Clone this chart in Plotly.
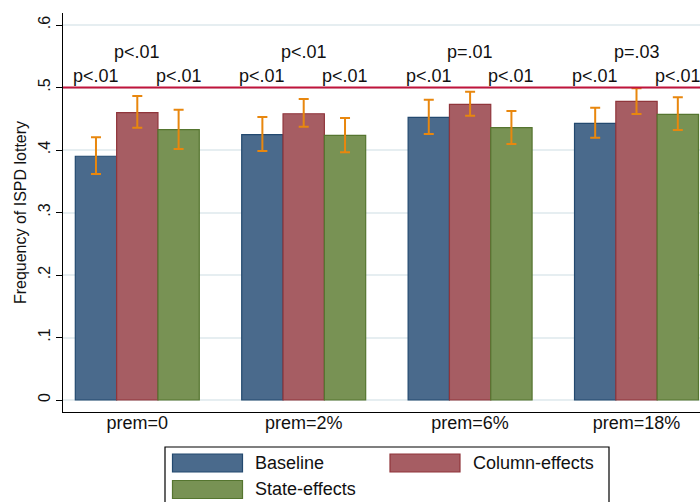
import plotly.graph_objects as go

categories = ["prem=0", "prem=2%", "prem=6%", "prem=18%"]
series_names = ["Baseline", "Column-effects", "State-effects"]

baseline = [0.390, 0.4245, 0.4523, 0.4427]
baseline_hi = [0.4203, 0.4528, 0.4805, 0.4677]
baseline_lo = [0.3616, 0.3984, 0.4256, 0.4197]

column = [0.4597, 0.458, 0.473, 0.4779]
column_hi = [0.4864, 0.4816, 0.4933, 0.4987]
column_lo = [0.4357, 0.4373, 0.4549, 0.4576]

state = [0.4325, 0.4235, 0.4357, 0.4571]
state_hi = [0.4645, 0.4512, 0.4624, 0.4843]
state_lo = [0.4016, 0.3963, 0.4096, 0.432]

p_baseline = ["p<.01", "p<.01", "p<.01", "p<.01"]
p_column = ["p<.01", "p<.01", "p=.01", "p=.03"]
p_state = ["p<.01", "p<.01", "p<.01", "p<.01"]

reference_line = 0.5
y_ticks = [0, 0.1, 0.2, 0.3, 0.4, 0.5, 0.6]
y_ticklabels = ["0", ".1", ".2", ".3", ".4", ".5", ".6"]

fills = ["#4a6a8c", "#a65d63", "#789254"]
borders = ["#23496f", "#90353b", "#55752f"]
err_color = "#e8870e"

FONT = "Liberation Sans, Arial, sans-serif"

# plot-area geometry in pixels
L, R, T, B = 63, 700, 13, 412
W, H = R - L, B - T


def px_x(px):
    return (px - L) / W


def px_y(py):
    return (B - py) / H


fig = go.Figure()
for name, vals, hi, lo, fc, bc in zip(
    series_names,
    [baseline, column, state],
    [baseline_hi, column_hi, state_hi],
    [baseline_lo, column_lo, state_lo],
    fills, borders,
):
    fig.add_trace(go.Bar(
        name=name,
        x=categories,
        y=vals,
        showlegend=False,
        marker=dict(color=fc, line=dict(color=bc, width=1.2)),
        error_y=dict(
            type="data", symmetric=False,
            array=[h - v for h, v in zip(hi, vals)],
            arrayminus=[v - l for v, l in zip(vals, lo)],
            color=err_color, thickness=2, width=5,
        ),
    ))

bargap = 0.255
bw = (1 - bargap) / 3
for i in range(len(categories)):
    for off, txt, yy in [(-bw, p_baseline[i], 0.518), (0, p_column[i], 0.557), (bw, p_state[i], 0.518)]:
        fig.add_annotation(
            x=i + off, y=yy, xref="x", yref="y", text=txt, showarrow=False,
            font=dict(family=FONT, size=18, color="#111111"),
            xanchor="center", yanchor="middle",
        )

fig.add_shape(type="line", xref="paper", yref="y", x0=0, x1=1,
              y0=reference_line, y1=reference_line,
              line=dict(color="#c0143c", width=1.8), layer="above")

# legend box drawn with shapes so swatches match the reference size
fig.add_shape(type="rect", xref="paper", yref="paper",
              x0=px_x(165), x1=px_x(609), y0=px_y(520), y1=px_y(447),
              line=dict(color="black", width=1.2), fillcolor="white", layer="above")
legend_items = [
    (172.5, 454, 253, 463),
    (390, 454, 471, 463),
    (172.5, 480.5, 253, 489.5),
]
for (sx, sy, tx, ty), name, fc, bc in zip(legend_items, series_names, fills, borders):
    fig.add_shape(type="rect", xref="paper", yref="paper",
                  x0=px_x(sx), x1=px_x(sx + 70), y0=px_y(sy + 18), y1=px_y(sy),
                  line=dict(color=bc, width=1.2), fillcolor=fc, layer="above")
    fig.add_annotation(x=px_x(tx), y=px_y(ty), xref="paper", yref="paper",
                       text=name, showarrow=False, xanchor="left", yanchor="middle",
                       font=dict(family=FONT, size=18, color="#111111"))

fig.update_layout(
    width=700, height=502,
    margin=dict(l=L, r=700 - R, t=T, b=502 - B, autoexpand=False),
    paper_bgcolor="white", plot_bgcolor="white",
    barmode="group", bargap=bargap, bargroupgap=0,
    font=dict(family=FONT, size=16, color="#111111"),
    showlegend=False,
    xaxis=dict(
        range=[-0.4465, 3.3816], showgrid=False, showline=True, linecolor="black",
        linewidth=1.2, ticks="", tickfont=dict(size=18), zeroline=False,
        automargin=False, ticklabelstandoff=-6,
    ),
    yaxis=dict(
        range=[-0.0192, 0.6192], tickvals=y_ticks, ticktext=y_ticklabels,
        tickangle=-90, tickfont=dict(size=16), ticks="outside", ticklen=6,
        tickcolor="black", showline=True, linecolor="black", linewidth=1.2,
        showgrid=True, gridcolor="#e6eef1", gridwidth=1.5, zeroline=False,
        automargin=False,
        title=dict(text="Frequency of ISPD lottery", font=dict(size=16), standoff=4),
    ),
)

fig.write_html("out.html", config={"displayModeBar": False},
               post_script="document.body.style.margin='0';")
